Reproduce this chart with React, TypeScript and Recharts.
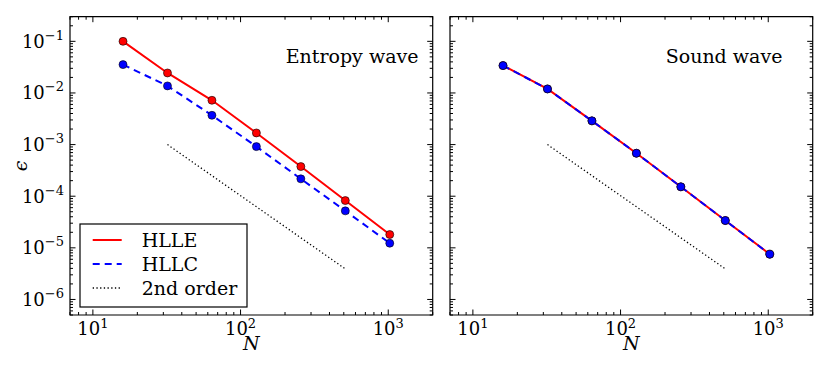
import React from "react";
import { LineChart, Line, XAxis, YAxis, ReferenceArea } from "recharts";

// grid sizes and measured errors
const gridN = [16, 32, 64, 128, 256, 512, 1024];
const entropyHLLE = [0.1, 0.0244, 0.00721, 0.00168, 3.75e-4, 8.24e-5, 1.81e-5];
const entropyHLLC = [0.0354, 0.0137, 0.00369, 9.14e-4, 2.17e-4, 5.2e-5, 1.23e-5];
const soundHLLE = [0.0339, 0.01197, 0.00288, 6.8e-4, 1.52e-4, 3.38e-5, 7.52e-6];
const soundHLLC = [0.0339, 0.01197, 0.00288, 6.8e-4, 1.52e-4, 3.38e-5, 7.52e-6];
const refN = [32, 512];
const refErr = [1e-3, 3.906e-6];

const xDomain = [7, 2000];
const yDomain = [5e-7, 0.3];
const xTicks = [7, 8, 9, 10, 20, 30, 40, 50, 60, 70, 80, 90, 100, 200, 300, 400, 500, 600, 700, 800, 900, 1000, 2000];
const xMajor = [10, 100, 1000];
const yDecades = [1e-7, 1e-6, 1e-5, 1e-4, 1e-3, 1e-2, 1e-1];
const yMajor = [1e-6, 1e-5, 1e-4, 1e-3, 1e-2, 1e-1];
const mantissas = [1, 2, 3, 4, 5, 6, 7, 8, 9];

const yTicks = yDecades
  .flatMap((d) => mantissas.map((m) => Number((m * d).toPrecision(3))))
  .filter((v) => v >= yDomain[0] && v <= yDomain[1]);

const PLOT_W = 362.7;
const PLOT_H = 298.3;
const FONT = "'DejaVu Serif', serif";

const toRows = (xs: number[], ys: number[]) => xs.map((n, i) => ({ n, e: ys[i] }));

const isMajor = (list: number[], v: number) => list.some((m) => Math.abs(Math.log10(m) - Math.log10(v)) < 1e-6);

function XTick(props: any) {
  const { x, y, payload } = props;
  const v = payload.value;
  const major = isMajor(xMajor, v);
  const len = major ? 5.5 : 3;
  return (
    <g>
      <line x1={x} x2={x} y1={y} y2={y - len} stroke="#000" strokeWidth={1} />
      <line x1={x} x2={x} y1={y - PLOT_H} y2={y - PLOT_H + len} stroke="#000" strokeWidth={1} />
      {major && (
        <text x={x} y={y + 20} textAnchor="middle" fontFamily={FONT} fontSize={18} fill="#000">
          10
          <tspan dy={-7} fontSize={13}>
            {Math.round(Math.log10(v))}
          </tspan>
        </text>
      )}
    </g>
  );
}

function YTick(props: any) {
  const { x, y, payload, showLabel } = props;
  const v = payload.value;
  const major = isMajor(yMajor, v);
  const len = major ? 5.5 : 3;
  return (
    <g>
      <line x1={x} x2={x + len} y1={y} y2={y} stroke="#000" strokeWidth={1} />
      <line x1={x + PLOT_W} x2={x + PLOT_W - len} y1={y} y2={y} stroke="#000" strokeWidth={1} />
      {major && showLabel && (
        <text x={x - 6} y={y + 6.5} textAnchor="end" fontFamily={FONT} fontSize={18} fill="#000">
          10
          <tspan dy={-8} fontSize={13}>
            {"\u2212" + Math.abs(Math.round(Math.log10(v)))}
          </tspan>
        </text>
      )}
    </g>
  );
}

function Panel({
  hlle,
  hllc,
  showYLabels,
  width,
  margin,
  yAxisWidth,
}: {
  hlle: number[];
  hllc: number[];
  showYLabels: boolean;
  width: number;
  margin: { top: number; right: number; bottom: number; left: number };
  yAxisWidth: number;
}) {
  return (
    <LineChart width={width} height={374} margin={margin}>
      <XAxis
        dataKey="n"
        type="number"
        scale="log"
        domain={xDomain}
        allowDataOverflow
        ticks={xTicks}
        interval={0}
        height={40}
        tickSize={0}
        tickMargin={0}
        tickLine={false}
        axisLine={false}
        tick={(p: any) => <XTick {...p} />}
        label={{
          value: "N",
          position: "insideBottom",
          offset: 5,
          style: { fontFamily: FONT, fontStyle: "italic", fontSize: 19, fill: "#000" },
        }}
      />
      <YAxis
        dataKey="e"
        type="number"
        scale="log"
        domain={yDomain}
        allowDataOverflow
        ticks={yTicks}
        interval={0}
        width={yAxisWidth}
        tickSize={0}
        tickMargin={0}
        tickLine={false}
        axisLine={false}
        tick={(p: any) => <YTick {...p} showLabel={showYLabels} />}
      />
      <Line
        data={toRows(gridN, hlle)}
        dataKey="e"
        stroke="#ff0000"
        strokeWidth={2}
        dot={{ r: 4, fill: "#ff0000", stroke: "#000", strokeWidth: 0.6 }}
        isAnimationActive={false}
      />
      <Line
        data={toRows(gridN, hllc)}
        dataKey="e"
        stroke="#0000ff"
        strokeWidth={2}
        strokeDasharray="7 5"
        dot={{ r: 4, fill: "#0000ff", stroke: "#000", strokeWidth: 0.6, strokeDasharray: "" }}
        isAnimationActive={false}
      />
      <Line
        data={toRows(refN, refErr)}
        dataKey="e"
        stroke="#000"
        strokeWidth={1.3}
        strokeDasharray="1.3 2.4"
        dot={false}
        isAnimationActive={false}
      />
      <ReferenceArea
        x1={xDomain[0]}
        x2={xDomain[1]}
        y1={yDomain[0]}
        y2={yDomain[1]}
        fill="none"
        stroke="#000"
        strokeWidth={1.2}
        ifOverflow="visible"
      />
    </LineChart>
  );
}

const legendItems = [
  { label: "HLLE", color: "#ff0000", dash: "", width: 2 },
  { label: "HLLC", color: "#0000ff", dash: "7 5", width: 2 },
  { label: "2nd order", color: "#000", dash: "1.3 2.4", width: 1.3 },
];

export default function App() {
  return (
    <div style={{ position: "absolute", left: 0, top: 0, width: 830, height: 374, background: "#fff" }}>
      <div style={{ position: "absolute", left: 0, top: 0 }}>
        <Panel
          hlle={entropyHLLE}
          hllc={entropyHLLC}
          showYLabels
          width={440}
          margin={{ top: 16.7, right: 7.3, bottom: 19, left: 20 }}
          yAxisWidth={50}
        />
      </div>
      <div style={{ position: "absolute", left: 440, top: 0 }}>
        <Panel
          hlle={soundHLLE}
          hllc={soundHLLC}
          showYLabels={false}
          width={390}
          margin={{ top: 16.7, right: 17.3, bottom: 19, left: 0 }}
          yAxisWidth={10}
        />
      </div>
      <svg
        width={830}
        height={374}
        style={{ position: "absolute", left: 0, top: 0, pointerEvents: "none" }}
      >
        <text
          transform="translate(27,166) rotate(-90)"
          textAnchor="middle"
          fontFamily={FONT}
          fontStyle="italic"
          fontSize={19}
        >
          {"\u03F5"}
        </text>
        <text x={285.7} y={63} fontFamily={FONT} fontSize={19}>
          Entropy wave
        </text>
        <text x={665.7} y={63} fontFamily={FONT} fontSize={19}>
          Sound wave
        </text>
        <rect x={80} y={224} width={167} height={83} fill="#fff" stroke="#000" strokeWidth={1.2} />
        {legendItems.map((it, i) => {
          const cy = 240 + i * 24;
          return (
            <g key={it.label}>
              <line
                x1={92.7}
                x2={121.7}
                y1={cy}
                y2={cy}
                stroke={it.color}
                strokeWidth={it.width}
                strokeDasharray={it.dash || undefined}
              />
              <text x={141.7} y={cy + 6.5} fontFamily={FONT} fontSize={19}>
                {it.label}
              </text>
            </g>
          );
        })}
      </svg>
    </div>
  );
}
